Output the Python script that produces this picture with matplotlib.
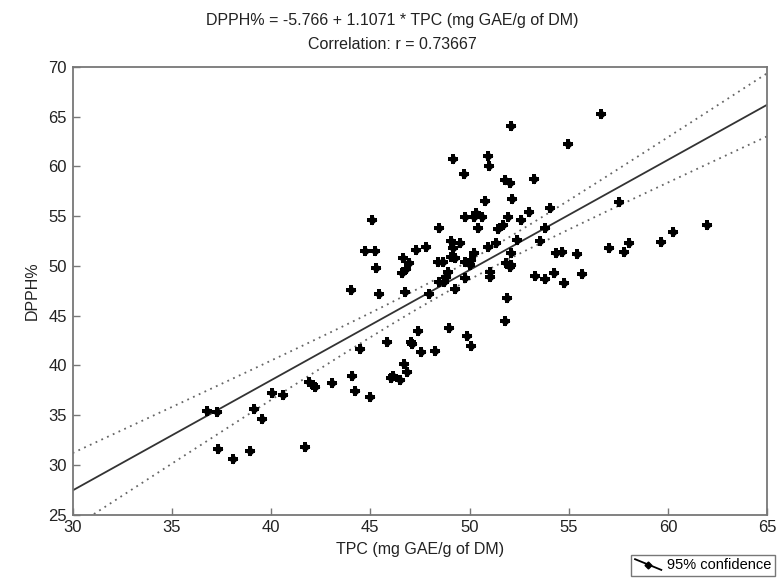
import numpy as np
import matplotlib

matplotlib.use("Agg")
import matplotlib.pyplot as plt
from matplotlib.legend_handler import HandlerLine2D
from matplotlib.lines import Line2D

plt.rcParams["font.family"] = ["Liberation Sans", "DejaVu Sans"]

# ---- data --------------------------------------------------------------
tpc = [
    36.75, 37.25, 37.33, 38.06, 38.93, 39.13, 39.52, 40.05, 40.6, 41.7,
    41.9, 42.1, 42.2, 43.09, 44.08, 44.23, 44.97, 44.47, 44.01, 45.06,
    44.72, 45.22, 45.27, 45.44, 45.84, 46.06, 46.14, 46.51, 46.7, 46.85,
    47.03, 47.1, 47.57, 48.24, 47.4, 48.96, 46.75, 47.96, 46.64, 46.95,
    46.61, 46.78, 47.32, 47.79, 48.46, 48.41, 48.66, 48.9, 48.8, 48.45,
    48.72, 49.75, 49.25, 49.08, 49.25, 49.08, 49.54, 49.16, 49.16, 49.7,
    50.93, 50.96, 52.1, 54.95, 56.6, 51.78, 52.02, 53.23, 50.76, 52.14,
    52.99, 54.05, 49.75, 50.2, 50.3, 50.64, 51.93, 52.6, 50.44, 51.45,
    51.68, 50.93, 51.31, 52.39, 53.82, 53.56, 50.2, 52.1, 54.37, 54.65,
    49.75, 50.0, 50.09, 51.01, 51.05, 51.85, 52.02, 52.1, 51.9, 51.78,
    49.89, 50.09, 53.28, 53.78, 54.25, 54.74, 55.43, 55.66, 57.51, 57.0,
    57.76, 58.01, 59.66, 60.24, 61.95,
]
dpph = [
    35.46, 35.3, 31.6, 30.6, 31.4, 35.6, 34.66, 37.2, 37.0, 31.8,
    38.3, 38.0, 37.8, 38.2, 38.9, 37.44, 36.87, 41.63, 47.56, 54.63,
    51.5, 51.5, 49.8, 47.22, 42.34, 38.78, 38.95, 38.55, 40.13, 39.3,
    42.4, 42.14, 41.4, 41.5, 43.47, 43.8, 47.42, 47.2, 50.78, 50.34,
    49.33, 49.67, 51.6, 51.88, 53.85, 50.44, 50.44, 49.4, 48.9, 48.4,
    48.4, 48.77, 47.66, 50.94, 50.78, 52.55, 52.35, 51.78, 60.73, 59.22,
    61.06, 60.06, 64.1, 62.24, 65.25, 58.65, 58.32, 58.75, 56.54, 56.71,
    55.46, 55.8, 54.9, 54.9, 55.36, 54.9, 54.96, 54.63, 53.85, 53.7,
    54.06, 51.85, 52.29, 52.62, 53.85, 52.52, 51.34, 51.28, 51.28, 51.44,
    50.44, 50.1, 50.6, 49.43, 48.87, 50.28, 49.94, 50.1, 46.76, 44.48,
    42.97, 42.0, 49.0, 48.67, 49.33, 48.26, 51.18, 49.2, 56.4, 51.78,
    51.44, 52.29, 52.39, 53.39, 54.06,
]

intercept = -5.766
slope = 1.1071
r_value = 0.73667


class HandlerDiagonal(HandlerLine2D):
    """Legend key drawn as a falling diagonal with a marker in the middle."""

    def create_artists(self, legend, orig_handle, xdescent, ydescent,
                       width, height, fontsize, trans):
        x0, x1 = -xdescent, -xdescent + width
        y0, y1 = -ydescent + height * 1.0, -ydescent - height * 0.05
        ln = Line2D([x0, x1], [y0, y1], color="k", lw=1.3, transform=trans)
        mk = Line2D([(x0 + x1) / 2], [(y0 + y1) / 2], color="k", marker="D",
                    markersize=3.5, linestyle="none", transform=trans)
        return [ln, mk]


def main() -> None:
    x = np.asarray(tpc)
    y = np.asarray(dpph)

    # 95% confidence band around the regression line
    n = len(x)
    resid = y - (intercept + slope * x)
    s = np.sqrt(np.sum(resid ** 2) / (n - 2))
    sxx = np.sum((x - x.mean()) ** 2)
    xs = np.linspace(30, 65, 200)
    fit = intercept + slope * xs
    hw = 1.98 * s * np.sqrt(1.0 / n + (xs - x.mean()) ** 2 / sxx)

    fig = plt.figure(figsize=(7.84, 5.81), dpi=100)
    ax = fig.add_axes([0.0927, 0.114, 0.886, 0.771])

    # filled "plus/diamond" blobs like the original markers
    ax.scatter(x, y, marker="D", s=24, color="black", linewidths=0, zorder=3)
    ax.scatter(x, y, marker="P", s=46, color="black", linewidths=0, zorder=3)
    ax.plot(xs, fit, color="#333333", lw=1.3, zorder=2)
    ax.plot(xs, fit + hw, color="#666666", lw=1.3, linestyle=(0, (1, 2.5)))
    ax.plot(xs, fit - hw, color="#666666", lw=1.3, linestyle=(0, (1, 2.5)))

    ax.set_xlim(30, 65)
    ax.set_ylim(25, 70)
    ax.set_xticks(np.arange(30, 66, 5))
    ax.set_yticks(np.arange(25, 71, 5))
    ax.tick_params(direction="in", length=5, width=1, color="#777777",
                   labelsize=12, labelcolor="#222222", pad=4)
    for sp in ax.spines.values():
        sp.set_color("#777777")
        sp.set_linewidth(1.3)

    ax.set_xlabel("TPC (mg GAE/g of DM)", fontsize=11.5, labelpad=5,
                  color="#222222")
    ax.set_ylabel("DPPH%", fontsize=11.5, labelpad=6, color="#222222")
    fig.text(0.5, 0.977, f"DPPH% = {intercept} + {slope} * TPC (mg GAE/g of DM)",
             ha="center", va="top", fontsize=11.5, color="#222222")
    fig.text(0.5, 0.937, f"Correlation: r = {r_value}",
             ha="center", va="top", fontsize=11.5, color="#222222")

    key = Line2D([], [], color="k")
    leg = fig.legend([key], ["95% confidence"], loc="lower right",
                     bbox_to_anchor=(0.998, -0.004), fontsize=10.5, frameon=True,
                     fancybox=False, edgecolor="#555555", handlelength=1.8,
                     handletextpad=0.4, borderpad=0.25,
                     handler_map={Line2D: HandlerDiagonal()})
    leg.get_frame().set_linewidth(1.0)

    fig.savefig("out.png", dpi=100)
    plt.close(fig)


if __name__ == "__main__":
    main()
